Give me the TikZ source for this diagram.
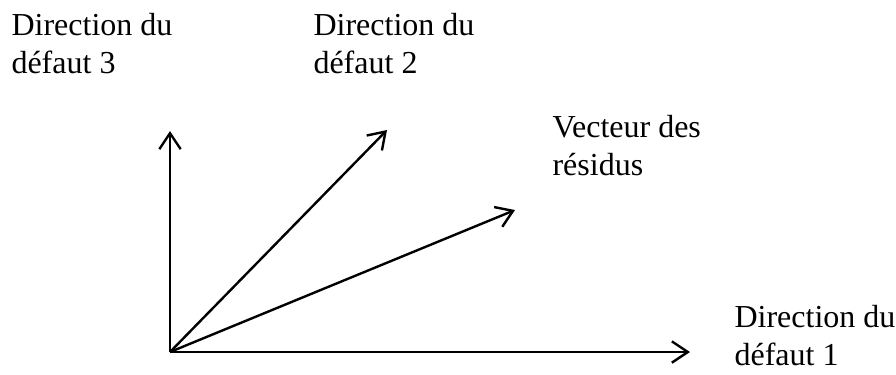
\documentclass[tikz,border=0pt]{standalone}
\usepackage{fontspec}
\setmainfont{Liberation Serif}
\usepackage{tikz}
\usetikzlibrary{arrows.meta, positioning}
\tikzset{
	vecarrow/.style={line width=0.9pt, -{Straight Barb[length=6pt, width=8pt]}}
}
\tikzset{
	dirtext/.style={font=\fontsize{12}{14.25}\selectfont, align=left, inner sep=0pt, anchor=base west}
}

\begin{document}
\begin{tikzpicture}[x=0.375pt, y=-0.375pt]
      \useasboundingbox (0,0) rectangle (896,374);
      \coordinate (O) at (170,352);
      \coordinate (d1) at (690,352);
      \coordinate (d2) at (387,130);
      \coordinate (d3) at (170,131);
      \coordinate (res) at (515,210);
      % axes and vectors from the origin
      \draw[vecarrow] (O) -- (d1);
      \draw[vecarrow] (O) -- (d3);
      \draw[vecarrow] (O) -- (d2);
      \draw[vecarrow] (O) -- (res);
      % labels (anchored at the baseline of the last line)
      \node[dirtext] (lab3) at (11,73) {Direction du\\défaut 3};
      \node[dirtext] (lab2) at (313,73) {Direction du\\défaut 2};
      \node[dirtext] (labres) at (552,175) {Vecteur des\\résidus};
      \node[dirtext] (lab1) at (734,365) {Direction du\\défaut 1};
    \end{tikzpicture}
\end{document}
